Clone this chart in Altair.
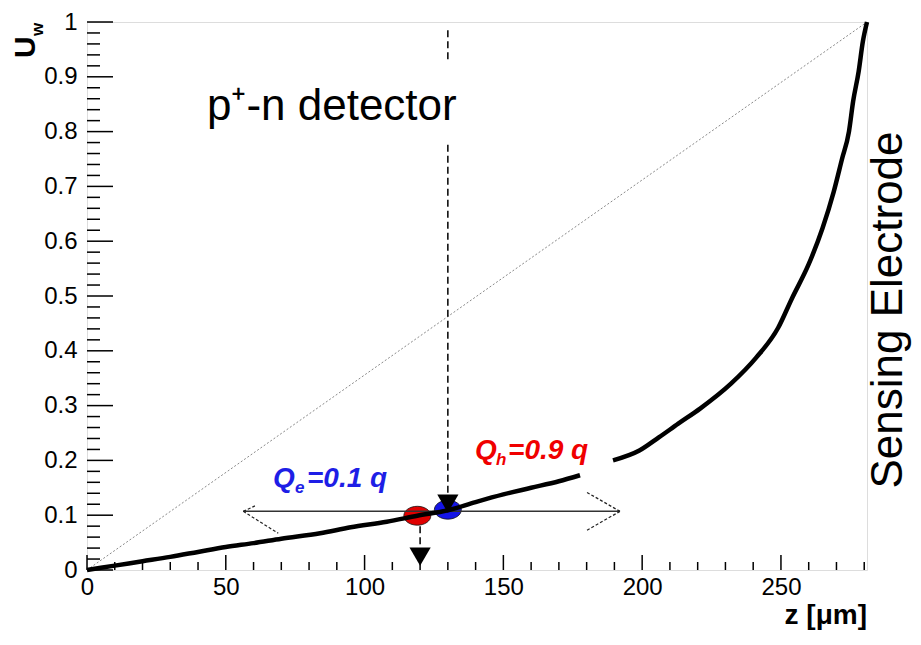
import altair as alt
import pandas as pd

# ---------------- data ----------------
curve_z = [0, 10, 20, 30, 40, 50, 60, 70, 84, 95, 108, 119, 130, 140, 150, 160, 170, 177.6,
           189.5, 199, 206, 213, 221, 232, 241, 249, 254, 260, 265, 269, 272, 274.5, 276, 278, 279.5, 281]
curve_u = [0, 0.008, 0.016, 0.024, 0.033, 0.042, 0.049, 0.057, 0.067, 0.078, 0.088, 0.099, 0.109,
           0.124, 0.138, 0.150, 0.162, 0.173,
           0.200, 0.218, 0.242, 0.267, 0.295, 0.340, 0.387, 0.442, 0.496, 0.558, 0.624, 0.690,
           0.750, 0.800, 0.855, 0.910, 0.964, 1.0]
curve_part = ["a"] * 18 + ["b"] * 18

diag_z = [0, 281]
diag_u = [0, 1]

charge_z = [119, 130]
charge_u = [0.099, 0.110]
charge_col = ["#e00000", "#1414e6"]

arrow_z = [130, 120]
arrow_u = [0.121, 0.0245]

# segments: x, y -> x2, y2
dash_z1 = [130, 130, 120]
dash_u1 = [0.985, 0.776, 0.080]
dash_z2 = [130, 130, 120]
dash_u2 = [0.927, 0.136, 0.045]

hline_z1, hline_z2, hline_u = [56.3], [192], [0.107]
head_z1 = [192, 192, 56.3, 56.3]
head_u1 = [0.107, 0.107, 0.107, 0.107]
head_z2 = [180, 180, 68.9, 60.5]
head_u2 = [0.142, 0.072, 0.067, 0.117]

x_major = [0, 50, 100, 150, 200, 250]
x_minor = [v for v in range(10, 281, 10) if v % 50 != 0]
y_major = [round(0.1 * i, 1) for i in range(11)]
y_minor = [round(0.02 * i, 2) for i in range(51) if i % 5 != 0]

W, H = 780, 548
FONT = "Liberation Sans"

xs = alt.Scale(domain=[0, 281], nice=False, zero=False)
ys = alt.Scale(domain=[0, 1], nice=False, zero=False)

x_axis = alt.Axis(values=x_major, ticks=False, domain=False, grid=False, labelFont=FONT,
                  labelFontSize=24, labelColor="black", labelPadding=5, labelFlush=False, title=None)
y_axis = alt.Axis(values=y_major, ticks=False, domain=False, grid=False, labelFont=FONT,
                  labelFontSize=24, labelColor="black", labelPadding=10, labelFlush=False,
                  format="~g", title=None)

curve_df = pd.DataFrame({"z": curve_z, "u": curve_u, "part": curve_part})
diag_df = pd.DataFrame({"z": diag_z, "u": diag_u})
charge_df = pd.DataFrame({"z": charge_z, "u": charge_u, "c": charge_col})
arrow_df = pd.DataFrame({"z": arrow_z, "u": arrow_u})
dash_df = pd.DataFrame({"z": dash_z1, "u": dash_u1, "z2": dash_z2, "u2": dash_u2})
hline_df = pd.DataFrame({"z": hline_z1, "z2": hline_z2, "u": hline_u})
head_df = pd.DataFrame({"z": head_z1, "u": head_u1, "z2": head_z2, "u2": head_u2})

X = lambda f="z": alt.X(f"{f}:Q", scale=xs, axis=x_axis)
Y = lambda f="u": alt.Y(f"{f}:Q", scale=ys, axis=y_axis)

diag = alt.Chart(diag_df).mark_line(color="#8a8a8a", strokeWidth=1, strokeDash=[2, 2]).encode(
    x=X(), y=Y())

ellipse = "M -1 0 A 1 0.7 0 1 1 1 0 A 1 0.7 0 1 1 -1 0 Z"
charges = alt.Chart(charge_df).mark_point(shape=ellipse, size=729, filled=True, opacity=1,
                                          stroke="#111", strokeWidth=0.8).encode(
    x=X(), y=Y(), fill=alt.Color("c:N", scale=None))

hline = alt.Chart(hline_df).mark_rule(color="#333", strokeWidth=1.5).encode(
    x=X(), x2="z2:Q", y=Y())
heads = alt.Chart(head_df).mark_rule(color="#222", strokeWidth=1.2, strokeDash=[3, 2]).encode(
    x=X(), y=Y(), x2="z2:Q", y2="u2:Q")
dashes = alt.Chart(dash_df).mark_rule(color="black", strokeWidth=1.5, strokeDash=[7, 4]).encode(
    x=X(), y=Y(), x2="z2:Q", y2="u2:Q")

curve = alt.Chart(curve_df).mark_line(color="black", strokeWidth=4.5, interpolate="monotone").encode(
    x=X(), y=Y(), detail="part:N", order="z:Q")

arrows = alt.Chart(arrow_df).mark_point(shape="triangle-down", size=450, filled=True,
                                        color="black", opacity=1).encode(x=X(), y=Y())

def label(z, u, txt, size, color, dx=0, dy=0, weight="normal", style="normal"):
    return alt.Chart(pd.DataFrame({"z": [z], "u": [u], "t": [txt]})).mark_text(
        align="left", baseline="alphabetic", font=FONT, fontSize=size, color=color,
        fontWeight=weight, fontStyle=style, dx=dx, dy=dy).encode(x=X(), y=Y(), text="t:N")

texts = [
    label(43.2, 0.822, "p⁺-n detector", 44, "black"),
    label(67, 0.1515, "Q", 28, "#1e1ee6", weight="bold", style="italic"),
    label(67, 0.1515, "e", 17, "#1e1ee6", dx=22, dy=6, weight="bold", style="italic"),
    label(67, 0.1515, "=0.1 q", 28, "#1e1ee6", dx=34, weight="bold", style="italic"),
    label(139.8, 0.203, "Q", 28, "#f00000", weight="bold", style="italic"),
    label(139.8, 0.203, "h", 17, "#f00000", dx=21, dy=6, weight="bold", style="italic"),
    label(139.8, 0.203, "=0.9 q", 28, "#f00000", dx=33, weight="bold", style="italic"),
]

def pix_text(txt, x, y, size, angle=0, align="left", weight="normal"):
    return alt.Chart(pd.DataFrame({"t": [txt]})).mark_text(
        align=align, baseline="alphabetic", font=FONT, fontSize=size, fontWeight=weight,
        angle=angle, color="black").encode(x=alt.value(x), y=alt.value(y), text="t:N")

titles = [
    pix_text("U", -52, 36, 30, angle=270, weight="bold"),
    pix_text("w", -44, 14, 17, angle=270, weight="bold"),
    pix_text("z [μm]", W, 602, 28, align="right", weight="bold"),
    pix_text("Sensing Electrode", 815, 288, 44, angle=270, align="center"),
]

xmaj = alt.Chart(pd.DataFrame({"z": x_major})).mark_rule(color="black", strokeWidth=1.5).encode(
    x=X(), y=alt.value(H), y2=alt.value(H - 15))
xmin = alt.Chart(pd.DataFrame({"z": x_minor})).mark_rule(color="black", strokeWidth=1.5).encode(
    x=X(), y=alt.value(H), y2=alt.value(H - 8))
ymaj = alt.Chart(pd.DataFrame({"u": y_major})).mark_rule(color="black", strokeWidth=1.5).encode(
    y=Y(), x=alt.value(0), x2=alt.value(26))
ymin = alt.Chart(pd.DataFrame({"u": y_minor})).mark_rule(color="black", strokeWidth=1.5).encode(
    y=Y(), x=alt.value(0), x2=alt.value(13))

chart = alt.layer(
    diag, xmaj, xmin, ymaj, ymin, charges, hline, heads, dashes, curve, arrows, *texts, *titles
).properties(
    width=W, height=H,
    padding={"left": 79, "top": 14, "right": 46, "bottom": 63},
    autosize=alt.AutoSizeParams(type="none"),
).configure_view(stroke="black", strokeWidth=2).configure(background="white")

chart.save("out.html", embed_options={"renderer": "svg", "actions": False})
